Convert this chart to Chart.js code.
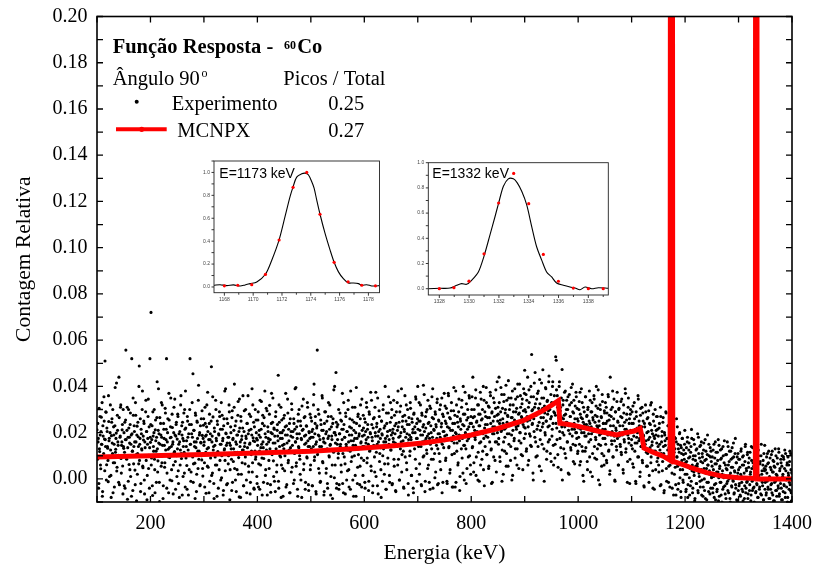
<!DOCTYPE html>
<html>
<head>
<meta charset="utf-8">
<script src="https://cdn.jsdelivr.net/npm/chart.js@4.4.1/dist/chart.umd.min.js"></script>
<style>
  html, body { margin: 0; padding: 0; background: #fff; }
  #wrap { position: relative; width: 815px; height: 567px; }
  #wrap canvas { position: absolute; }
</style>
</head>
<body>
<div id="wrap">
  <canvas id="mainCanvas" width="815" height="567" style="left:0;top:0"></canvas>
  <canvas id="insetCanvasA" width="200" height="160" style="left:185px;top:150px"></canvas>
  <canvas id="insetCanvasB" width="215" height="160" style="left:400px;top:150px"></canvas>
</div>
<script>
// Data
// Experiment: channels every 0.5 keV from 100 to 1400 keV, counts in units of 1e-4
// (expCounts on whole keV, expCountsHalf on the half keV in between)
const expFirstKeV = 100;
const expCounts = [
  212,85,160,-40,305,118,190,44,267,150,-75,230,98,355,172,510,140,288,61,205,133,-12,248,176,92,320,15,187,260,110,-60,225,150,70,395,128,198,34,275,160,102,440,-25,180,310,88,145,212,56,300,
  132,-30,245,170,557,95,210,-88,180,300,62,155,235,10,190,520,120,-50,275,140,205,38,330,160,-95,228,110,182,65,488,150,260,-20,195,125,380,48,168,240,-65,135,290,80,205,15,175,345,102,-40,520,
  158,720,90,230,-72,185,120,300,40,212,165,-15,265,130,78,390,195,-98,150,240,55,180,320,105,-30,215,145,70,285,170,520,25,200,128,-60,255,92,178,350,140,-8,222,160,60,310,118,190,-45,235,100,
  172,280,35,150,-80,205,125,360,88,190,245,10,165,115,300,-35,220,140,58,270,180,-70,105,235,520,150,30,195,330,95,-15,210,160,68,285,135,-55,250,175,45,405,120,200,-25,158,260,82,188,12,232,
  145,70,310,185,-62,225,130,375,50,170,240,-10,195,110,485,160,25,268,140,-85,205,95,340,175,60,250,118,-40,190,290,80,215,150,5,275,165,-70,230,125,380,35,198,145,260,-20,180,100,320,155,40,
  225,130,-50,295,170,75,210,410,115,-5,250,150,40,190,335,92,-78,220,160,270,20,185,125,360,-30,205,140,65,300,175,-60,240,110,195,30,280,155,-15,215,120,390,70,178,245,-45,162,300,95,200,10,
  168,255,-35,190,120,340,60,215,150,-70,275,135,88,230,380,15,180,125,295,-20,205,160,45,318,170,-58,240,110,195,350,78,220,-10,155,270,130,30,210,185,448,-40,245,100,175,310,60,200,145,-75,262,
  150,35,225,370,118,-25,190,285,80,165,240,-60,135,205,325,50,180,115,260,-5,215,160,395,70,195,-45,250,140,300,100,20,230,175,-80,210,120,345,65,185,270,-15,155,228,90,310,140,-50,200,175,40,
  265,130,205,-30,180,320,410,95,240,150,-65,220,557,115,190,280,25,170,-10,235,140,360,75,210,160,-55,290,125,195,45,250,-20,175,330,100,215,145,-70,270,185,60,240,120,385,5,200,155,460,-40,225,
  170,90,300,-25,195,140,255,30,215,370,110,-60,235,180,65,285,150,-5,205,125,340,40,190,260,-45,165,220,95,310,145,-75,245,175,15,200,395,130,-20,270,105,185,230,55,320,160,-35,210,140,275,80,
  190,-15,245,155,330,70,215,180,-50,290,120,200,375,35,235,165,-30,260,140,95,310,185,10,225,150,350,-65,205,270,110,175,40,250,195,-10,300,130,220,65,400,160,-45,240,185,90,285,150,15,210,330,
  125,265,-25,200,175,340,55,230,155,-55,290,140,210,380,85,245,-5,185,315,160,30,225,270,120,-40,205,360,145,250,70,195,300,-20,170,235,100,330,180,15,260,150,215,-60,285,130,200,355,45,240,175,
  400,155,250,20,210,320,140,-30,275,190,95,235,365,165,-10,220,290,110,185,340,60,245,175,-45,305,200,130,265,390,85,215,160,5,280,235,145,330,-25,195,255,110,300,180,40,225,350,150,-15,270,205,
  165,315,80,240,190,-20,285,370,135,220,25,260,175,330,105,210,-35,295,155,240,-35,380,195,120,270,60,225,345,165,10,250,185,310,90,235,400,145,-5,280,200,130,325,45,215,265,175,360,100,240,20,
  190,300,135,440,225,70,270,180,350,15,245,205,320,115,280,-10,230,375,160,255,85,300,195,40,340,220,140,270,395,105,235,180,315,55,265,210,360,125,-20,290,195,250,95,330,225,160,385,30,275,200,
  310,150,440,240,75,290,205,365,125,260,20,335,215,180,300,405,110,245,275,55,350,195,230,320,140,265,-5,380,210,290,165,255,90,345,225,305,130,410,240,45,285,200,360,155,270,325,100,235,390,175,
  470,220,290,120,340,250,60,310,385,195,270,145,355,538,235,300,-5,260,415,180,325,95,280,215,370,140,305,245,430,170,290,35,350,225,472,265,130,315,200,395,250,85,335,280,160,420,230,300,110,365,
  270,185,400,240,60,330,285,150,528,513,220,360,105,295,250,420,175,310,40,265,473,200,340,130,275,225,380,90,300,245,160,355,210,20,320,270,135,395,230,185,290,75,340,215,260,145,375,200,305,110,
  250,180,335,60,280,215,390,140,260,15,310,200,235,120,355,185,270,75,300,225,160,380,240,30,290,195,330,110,255,210,345,90,275,170,400,230,130,305,-5,250,190,320,145,270,55,365,215,240,100,295,
  175,330,240,80,285,200,365,120,255,20,440,190,270,150,310,95,230,345,165,-10,290,210,125,375,250,60,300,185,230,140,335,105,265,200,40,320,170,245,390,115,215,280,-15,190,350,155,260,85,300,205,
  170,290,65,240,185,330,120,215,-20,270,155,200,360,95,250,175,30,305,140,225,80,285,190,-30,240,130,320,165,55,260,110,205,295,15,180,235,70,330,145,195,-40,250,120,175,300,40,210,155,270,90,
  185,30,240,125,310,-25,160,205,75,265,110,-50,190,145,290,45,175,95,230,-15,135,255,60,180,120,210,-40,150,85,250,20,130,175,-70,260,95,55,150,-20,115,200,40,-55,135,80,175,-5,105,60,150,
  20,110,-45,75,160,-80,50,125,5,95,-30,140,214,35,-60,85,170,15,-95,100,55,-20,130,65,-50,180,25,90,-10,145,40,-70,110,70,-35,155,0,80,-85,120,45,-15,190,60,-55,100,20,135,-40,75,
  10,95,-60,40,150,-25,65,-90,115,30,-45,80,170,5,-75,55,125,-15,90,-100,35,140,-35,70,15,-65,105,45,-20,160,-50,60,0,120,-85,25,85,-30,135,50,-10,95,-60,30,175,-40,70,10,-95,110,
  40,-30,85,-70,20,130,-15,60,-55,100,5,-85,75,150,-40,35,-10,115,-65,50,90,-25,20,-95,140,45,-50,70,0,-35,110,30,-60,85,-20,55,-80,125,15,-45,65,-5,100,-70,35,-30,80,-90,45,145,
  -15,55,-60,25,110,-35,70,-85,10,90,-45,40,-20,120,-70,30,75,-95,50,-10,100,-50,15,65,-30,130,-75,35,-5,85,-40,55,-90,20,95,-25,45,-60,110,0,-35,70,-80,25,60,-15,120,-50,40,-95,30
];
const expCountsHalf = [
  95,240,175,-20,130,270,60,205,150,330,-55,185,110,250,35,170,290,-5,220,140,80,360,165,10,200,125,-80,245,155,300,70,190,-35,230,115,175,415,50,210,145,-15,265,100,185,320,25,160,235,-65,140,
  200,115,-40,255,170,85,310,135,-10,220,180,40,285,150,-75,195,120,350,65,230,160,-25,275,105,190,20,245,140,400,80,175,-55,215,130,300,55,185,250,-5,160,100,340,205,-90,150,270,45,225,135,180,
  235,60,170,-30,290,140,200,85,-60,255,120,180,420,30,210,155,-15,265,100,190,330,70,145,-85,240,175,50,305,125,215,-40,160,260,95,370,135,-5,225,180,40,280,150,-65,200,115,345,75,185,245,10,
  130,270,-20,195,160,60,320,110,230,-70,175,140,285,25,215,380,90,165,-45,250,125,195,40,300,150,-10,235,105,180,455,65,210,140,-85,275,160,20,245,120,340,85,190,-30,230,155,100,295,45,175,260,
  160,-35,240,115,190,320,55,205,135,-60,280,170,90,250,15,185,355,125,-20,220,145,60,300,165,-75,235,110,195,40,270,150,-5,330,100,215,175,-50,260,130,80,390,195,-25,155,240,65,180,290,-90,145,
  200,85,265,-15,175,130,310,45,230,160,-55,190,115,275,20,205,345,140,-80,250,170,70,220,125,-30,295,155,95,185,-5,240,135,360,55,210,150,-65,270,105,190,30,320,165,-40,225,120,85,255,175,-20,
  145,290,65,210,-45,180,135,335,90,240,160,-15,265,115,195,40,305,150,-70,225,175,80,280,130,-25,200,370,105,245,155,10,215,185,-55,290,120,60,235,165,-10,320,140,200,95,-80,255,175,45,210,130,
  275,100,190,-35,230,155,345,70,215,125,-60,260,185,30,300,145,205,-20,240,110,390,160,55,225,175,-75,280,135,195,85,250,-5,170,315,120,215,40,265,150,-45,190,230,95,330,165,-25,205,140,280,60,
  180,250,-30,215,140,365,80,195,270,-55,160,230,105,300,45,185,140,-15,255,120,210,350,70,175,-70,240,155,290,25,205,130,-40,270,185,95,320,150,10,225,170,-85,260,115,200,400,60,190,245,-20,150,
  235,110,-45,195,285,150,60,250,170,-20,215,330,95,180,-65,270,140,205,35,300,160,-35,225,120,380,75,190,255,-5,165,210,100,310,145,-75,240,175,50,280,130,195,-25,260,155,90,345,185,15,220,140,
  260,-40,205,170,310,90,235,150,-10,280,125,195,55,340,180,-60,220,145,265,30,200,375,115,240,-30,185,160,295,75,215,135,-80,250,190,100,320,160,20,230,175,-45,285,140,205,65,355,170,-15,245,125,
  190,300,-20,215,160,85,275,195,-50,240,140,330,60,225,180,-5,290,130,200,390,105,250,165,-35,215,275,95,180,320,40,235,155,-70,265,190,120,305,170,15,245,200,-40,280,150,225,85,345,175,-10,260,
  215,140,330,65,250,190,-25,285,160,225,405,100,205,-55,270,175,125,300,45,240,195,-15,315,150,230,85,355,180,-40,260,210,110,290,30,225,175,345,130,-20,250,195,75,320,160,240,-60,280,205,135,370,
  185,250,90,305,-10,225,170,360,140,265,40,210,295,165,-35,240,185,395,110,275,200,-15,320,155,245,70,290,190,-50,260,215,130,340,175,25,280,230,145,375,195,-20,255,165,300,95,225,350,185,60,270,
  240,355,140,265,30,300,210,170,385,95,250,195,-5,320,230,155,280,60,345,200,260,120,400,175,-30,290,235,185,330,105,265,210,45,310,160,375,240,130,285,-15,225,350,195,270,80,305,215,160,420,250,
  280,175,330,95,255,395,210,-10,305,240,160,365,120,285,220,55,340,195,270,425,150,300,235,80,350,190,265,15,320,245,175,390,130,290,215,60,355,230,280,165,410,200,310,105,265,345,40,295,225,370,
  300,195,365,130,270,440,225,80,330,255,185,400,140,295,240,25,355,205,310,460,160,275,345,100,230,380,290,55,325,210,265,415,150,305,240,350,-10,285,190,390,250,120,340,225,295,445,170,315,260,75,
  330,215,420,145,290,360,90,275,240,385,170,310,50,265,400,205,295,135,350,225,-5,320,260,190,375,110,280,245,340,160,300,25,230,365,195,270,125,330,215,410,150,285,240,65,315,200,355,175,260,120,
  220,300,150,375,75,265,200,330,120,245,-10,290,185,355,135,235,275,40,310,195,250,95,340,170,225,290,10,265,205,360,140,245,180,315,85,270,220,385,150,230,-25,300,195,265,110,335,175,240,60,285,
  215,150,310,70,250,190,355,125,275,35,230,300,165,205,380,95,260,185,-5,290,220,140,335,175,245,60,305,200,150,270,115,345,190,230,25,285,160,215,370,130,255,195,75,310,175,240,-20,280,210,145,
  240,130,315,50,205,260,155,-10,290,180,220,95,345,165,230,10,275,140,195,310,70,250,185,-35,225,150,290,115,200,55,265,170,-15,240,135,320,95,210,160,35,280,185,-45,230,120,190,270,75,215,140,
  60,220,150,-30,270,110,185,35,245,140,-60,200,165,90,285,-10,175,125,230,55,150,-35,210,100,170,25,135,240,-70,115,180,50,-25,160,95,225,-45,130,70,195,5,145,-80,110,175,40,-15,125,85,210,
  70,-55,135,20,180,-25,90,155,-70,45,115,-10,175,60,-40,100,30,150,-85,80,125,-20,55,195,-60,110,10,140,-35,75,160,-5,95,-75,125,45,-50,170,25,85,-90,105,60,-15,150,35,-65,95,120,5,
  55,-40,125,10,-80,90,160,-20,65,-55,115,30,-95,145,45,-15,85,-70,130,20,-45,100,5,165,-30,60,-85,105,40,-10,140,-60,75,15,-100,120,50,-35,90,-5,155,-65,35,110,-25,70,-90,95,25,-50,
  85,-20,50,-75,120,10,-45,95,-95,60,25,-30,140,-60,45,-15,105,-85,70,0,-50,115,30,-70,80,-10,135,-40,55,-100,90,15,-55,125,-25,40,-80,100,5,-35,75,-65,150,20,-15,60,-90,110,35,-45,
  40,-70,95,-10,65,-45,120,5,-85,50,-25,105,-60,30,80,-95,55,-15,130,-50,20,-75,90,0,-40,115,-65,45,-20,70,-90,100,10,-55,85,-30,125,-80,35,-5,60,-100,95,15,-45,75,-25,110,-60,25
];

// MCNPX simulation (keV, relative count)
const mcnpxEnergy = [100,200,300,400,500,586,650,710,760,800,850,897,930,950,963,966,980,1003,1040,1072,1090,1105,1116,1120,1123,1140,1160,1172,1174.5,1177,1181,1200,1215,1240,1271,1300,1331.5,1333,1334.5,1340,1400];
const mcnpxCount  = [0.0095,0.0100,0.0105,0.0112,0.0120,0.0131,0.0142,0.0155,0.0172,0.0190,0.0218,0.0252,0.0290,0.0318,0.0338,0.0240,0.0236,0.0226,0.0205,0.0190,0.0200,0.0207,0.0218,0.0175,0.0133,0.0115,0.0097,0.0080,1.0,0.0075,0.0073,0.0058,0.0045,0.0027,0.0011,0.0005,0.0002,1.0,0.0,0.0,0.0];

// Inset A: peak at 1173 keV
const peakAExpKeV   = [1168.0,1168.93,1169.9,1170.85,1171.8,1172.77,1173.72,1174.64,1175.62,1176.59,1177.54,1178.49];
const peakAExpVal   = [0.01,0.015,0.02,0.11,0.41,0.87,1.0,0.635,0.215,0.045,0.015,0.01];
const peakAFitKeV   = [1167.28,1167.7,1168.16,1168.63,1169.09,1169.44,1169.78,1170.25,1170.85,1171.29,1171.8,1172.21,1172.56,1172.77,1173.02,1173.37,1173.6,1173.83,1174.06,1174.23,1174.41,1174.64,1174.99,1175.34,1175.62,1175.92,1176.26,1176.61,1176.96,1177.31,1177.54,1177.88,1178.23,1178.49,1178.76];
const peakAFitVal   = [0.015,0.02,0.012,0.018,0.009,0.018,0.029,0.044,0.111,0.234,0.412,0.614,0.789,0.874,0.959,0.988,0.994,0.98,0.921,0.863,0.76,0.635,0.468,0.322,0.216,0.132,0.073,0.035,0.035,0.029,0.015,0.02,0.009,0.009,0.012];

// Inset B: peak at 1332 keV
const peakBExpKeV   = [1328.0,1328.98,1329.99,1331.0,1331.98,1332.99,1334.0,1334.98,1335.99,1336.99,1338.0,1339.0];
const peakBExpVal   = [0.0,0.008,0.06,0.277,0.68,0.915,0.675,0.272,0.059,0.005,0.0,0.0];
const peakBFitKeV   = [1327.26,1328.04,1328.72,1329.16,1329.5,1329.83,1330.17,1330.62,1331.0,1331.4,1331.74,1331.98,1332.3,1332.63,1332.97,1333.23,1333.53,1333.86,1334.2,1334.53,1334.87,1335.2,1335.54,1335.87,1336.32,1336.77,1337.11,1337.44,1337.78,1338.22,1338.67,1339.34];
const peakBFitVal   = [0,0.003,0.005,0.027,0.04,0.035,0.067,0.133,0.259,0.427,0.573,0.68,0.813,0.872,0.872,0.84,0.773,0.667,0.493,0.333,0.227,0.133,0.093,0.045,0.027,0.013,0.005,-0.008,0.013,0,0.008,0.003];

// Helpers
const toXY = (xs, ys) => xs.map((x, i) => ({x: x, y: ys[i]}));
const expPoints = expCounts.map((c, i) => ({x: expFirstKeV + i, y: c / 10000}))
    .concat(expCountsHalf.map((c, i) => ({x: expFirstKeV + 0.5 + i, y: c / 10000})));
const serif = "'Liberation Serif', 'Times New Roman', serif";
const sans = "'Liberation Sans', Arial, sans-serif";

// Frame, inward ticks, axis titles and legend text
const mainDecor = {
    id: 'mainDecor',
    afterDatasetsDraw(chart) {
        const ctx = chart.ctx;
        const a = chart.chartArea;
        const x = chart.scales.x, y = chart.scales.y;
        ctx.save();
        ctx.strokeStyle = '#000';
        ctx.lineWidth = 1.6;
        ctx.strokeRect(a.left, a.top, a.right - a.left, a.bottom - a.top);
        ctx.lineWidth = 1.3;
        ctx.beginPath();
        x.ticks.forEach(t => {
            const p = x.getPixelForValue(t.value);
            ctx.moveTo(p, a.bottom); ctx.lineTo(p, a.bottom - 6);
            ctx.moveTo(p, a.top); ctx.lineTo(p, a.top + 6);
        });
        y.ticks.forEach(t => {
            const p = y.getPixelForValue(t.value);
            ctx.moveTo(a.left, p); ctx.lineTo(a.left + 6, p);
            ctx.moveTo(a.right, p); ctx.lineTo(a.right - 6, p);
        });
        ctx.stroke();

        // axis titles
        ctx.fillStyle = '#000';
        ctx.font = '21.5px ' + serif;
        ctx.textAlign = 'center';
        ctx.textBaseline = 'alphabetic';
        ctx.fillText('Energia (keV)', (a.left + a.right) / 2, 558.5);
        ctx.save();
        ctx.translate(29.5, (a.top + a.bottom) / 2);
        ctx.rotate(-Math.PI / 2);
        ctx.fillText('Contagem Relativa', 0, 0);
        ctx.restore();

        // legend block
        ctx.textAlign = 'left';
        ctx.font = 'bold 20.5px ' + serif;
        ctx.fillText('Função Resposta -', 112.7, 53.3);
        ctx.font = 'bold 12px ' + serif;
        ctx.fillText('60', 284, 48.5);
        ctx.font = 'bold 20.5px ' + serif;
        ctx.fillText('Co', 297.3, 53.3);
        ctx.font = '20.5px ' + serif;
        ctx.fillText('Ângulo 90', 112.7, 85);
        ctx.font = '12px ' + serif;
        ctx.fillText('o', 201.5, 77);
        ctx.font = '20.5px ' + serif;
        ctx.fillText('Picos / Total', 283.3, 85);
        ctx.fillText('Experimento', 171.7, 110);
        ctx.fillText('0.25', 328.3, 110);
        ctx.fillText('MCNPX', 177.3, 137.3);
        ctx.fillText('0.27', 328.3, 137.3);
        ctx.beginPath();
        ctx.arc(136.7, 101.7, 2, 0, Math.PI * 2);
        ctx.fill();
        ctx.strokeStyle = '#ff0000';
        ctx.lineWidth = 4;
        ctx.beginPath();
        ctx.moveTo(116, 129.3); ctx.lineTo(166.7, 129.3);
        ctx.stroke();
        ctx.fillStyle = '#ff0000';
        ctx.beginPath();
        ctx.arc(141.7, 129.3, 2.6, 0, Math.PI * 2);
        ctx.fill();
        ctx.restore();
    }
};

const mainChart = new Chart(document.getElementById('mainCanvas').getContext('2d'), {
    type: 'scatter',
    data: {
        datasets: [{
            label: 'MCNPX',
            type: 'line',
            data: toXY(mcnpxEnergy, mcnpxCount),
            borderColor: '#ff0000',
            borderWidth: 5,
            pointRadius: 0,
            tension: 0,
            fill: false,
            clip: 0,
            order: 0
        }, {
            label: 'Experimento',
            data: expPoints,
            backgroundColor: '#000',
            borderWidth: 0,
            pointRadius: 1.55,
            clip: 0,
            order: 1
        }]
    },
    options: {
        responsive: false,
        animation: false,
        events: [],
        layout: { padding: { top: 16.5, right: 23, left: 0, bottom: 0 } },
        plugins: { legend: { display: false }, tooltip: { enabled: false } },
        scales: {
            x: {
                type: 'linear', min: 100, max: 1400,
                grid: { display: false, drawTicks: false },
                border: { display: false },
                ticks: {
                    stepSize: 100, autoSkip: false, maxRotation: 0, padding: 10,
                    color: '#000', font: { family: serif, size: 20 },
                    callback: v => (v % 200 === 0 ? String(v) : '')
                },
                afterFit: s => { s.height = 65; s.paddingLeft = 0; s.paddingRight = 0; }
            },
            y: {
                type: 'linear', min: -0.01, max: 0.2,
                grid: { display: false, drawTicks: false },
                border: { display: false },
                ticks: {
                    stepSize: 0.01, autoSkip: false, padding: 9.5,
                    color: '#000', font: { family: serif, size: 20 },
                    callback: v => (Math.round(v * 100) % 2 === 0 ? v.toFixed(2) : '')
                },
                afterFit: s => { s.width = 97; s.paddingTop = 0; s.paddingBottom = 0; }
            }
        }
    },
    plugins: [mainDecor]
});

// Insets
function insetDecor(label, dx, dy) {
    return {
        id: 'insetDecor',
        afterDatasetsDraw(chart) {
            const ctx = chart.ctx;
            const a = chart.chartArea;
            const x = chart.scales.x, y = chart.scales.y;
            ctx.save();
            ctx.strokeStyle = '#222';
            ctx.lineWidth = 0.9;
            ctx.strokeRect(a.left, a.top, a.right - a.left, a.bottom - a.top);
            ctx.beginPath();
            x.ticks.forEach(t => {
                const p = x.getPixelForValue(t.value);
                ctx.moveTo(p, a.bottom); ctx.lineTo(p, a.bottom + (t.value % 2 === 0 ? 3 : 2));
            });
            y.ticks.forEach(t => {
                const p = y.getPixelForValue(t.value);
                ctx.moveTo(a.left, p); ctx.lineTo(a.left - 2.5, p);
            });
            ctx.stroke();
            ctx.fillStyle = '#000';
            ctx.font = '14px ' + sans;
            ctx.textAlign = 'left';
            ctx.fillText(label, a.left + dx, a.top + dy);
            ctx.restore();
        }
    };
}

function makeInset(canvasId, fitX, fitY, expX, expY, xMin, xMax, yMax, yAxisWidth, xAxisHeight, pad, label, dx, dy) {
    return new Chart(document.getElementById(canvasId).getContext('2d'), {
        type: 'scatter',
        data: {
            datasets: [{
                type: 'line',
                data: toXY(fitX, fitY),
                borderColor: '#000',
                borderWidth: 1.1,
                pointRadius: 0,
                tension: 0.3,
                fill: false,
                order: 1
            }, {
                data: toXY(expX, expY),
                backgroundColor: '#ff0000',
                borderWidth: 0,
                pointRadius: 1.6,
                order: 0
            }]
        },
        options: {
            responsive: false,
            animation: false,
            events: [],
            layout: { padding: pad },
            plugins: { legend: { display: false }, tooltip: { enabled: false } },
            scales: {
                x: {
                    type: 'linear', min: xMin, max: xMax,
                    grid: { display: false, drawTicks: false },
                    border: { display: false },
                    ticks: {
                        stepSize: 1, includeBounds: false, autoSkip: false, maxRotation: 0, padding: 4,
                        color: '#444', font: { family: sans, size: 5 },
                        callback: v => (Math.round(v) % 2 === 0 ? String(Math.round(v)) : '')
                    },
                    afterFit: s => { s.height = xAxisHeight; s.paddingLeft = 0; s.paddingRight = 0; }
                },
                y: {
                    type: 'linear', min: -0.05, max: yMax,
                    grid: { display: false, drawTicks: false },
                    border: { display: false },
                    ticks: {
                        stepSize: 0.1, includeBounds: false, autoSkip: false, padding: 4,
                        color: '#444', font: { family: sans, size: 5 },
                        callback: v => (Math.round(v * 10) % 2 === 0 ? v.toFixed(1) : '')
                    },
                    afterFit: s => { s.width = yAxisWidth; s.paddingTop = 0; s.paddingBottom = 0; }
                }
            }
        },
        plugins: [insetDecor(label, dx, dy)]
    });
}

const insetA = makeInset('insetCanvasA', peakAFitKeV, peakAFitVal, peakAExpKeV, peakAExpVal,
    1167.28, 1178.77, 1.1, 29, 17.3, { top: 11, right: 5.5, left: 0, bottom: 0 }, 'E=1173 keV', 5.3, 16.7);
const insetB = makeInset('insetCanvasB', peakBFitKeV, peakBFitVal, peakBExpKeV, peakBExpVal,
    1327.26, 1339.34, 1.0, 28.3, 15, { top: 12.7, right: 6.7, left: 0, bottom: 0 }, 'E=1332 keV', 4, 15.6);
</script>
</body>
</html>
